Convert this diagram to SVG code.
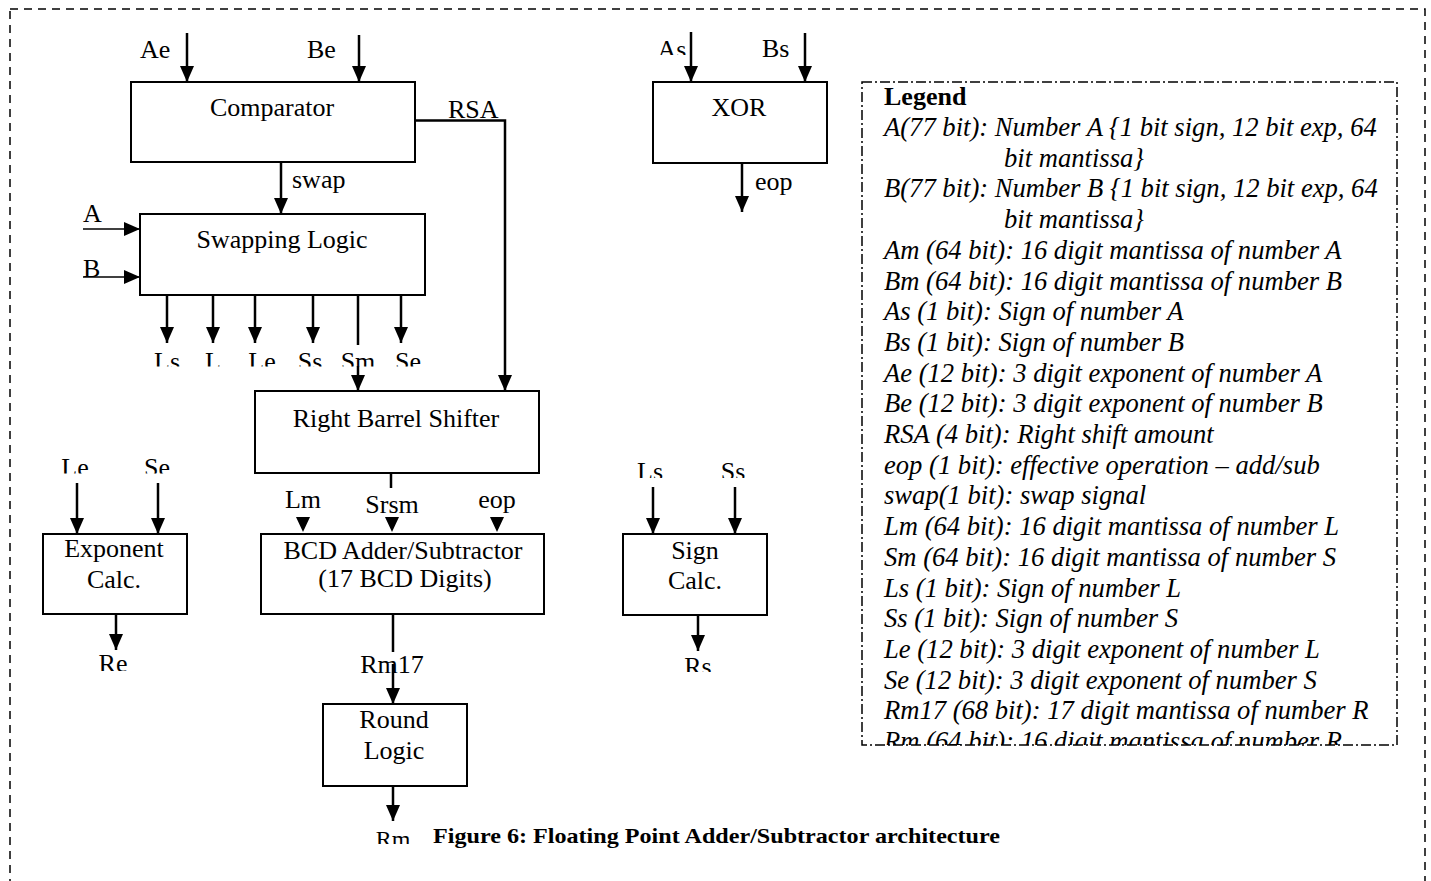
<svg xmlns="http://www.w3.org/2000/svg" width="1431" height="881" viewBox="0 0 1431 881">
<style>
text{font-family:"Liberation Serif","Times New Roman",serif;font-size:26px;fill:#000}
.c{text-anchor:middle}
.it{font-style:italic;font-size:26.6px}
.b{font-weight:bold}
.box{fill:#fff;stroke:#000;stroke-width:2}
.w{stroke:#000;stroke-width:2.5;fill:none}
.thin{stroke:#000;stroke-width:1.3;fill:none}
.ar{marker-end:url(#ah)}
.tri{fill:#000}
</style>
<defs>
<marker id="ah" markerUnits="userSpaceOnUse" markerWidth="16" markerHeight="14" refX="16" refY="7" orient="auto" viewBox="0 0 16 14">
<path d="M0,0 L16,7 L0,14 z" fill="#000"/>
</marker>
<clipPath id="cOut"><rect x="130" y="330" width="300" height="36.5"/></clipPath>
<clipPath id="cExpIn"><rect x="40" y="440" width="160" height="33.5"/></clipPath>
<clipPath id="cSgnIn"><rect x="610" y="440" width="160" height="38"/></clipPath>
<clipPath id="cRe"><rect x="80" y="640" width="80" height="31"/></clipPath>
<clipPath id="cRs"><rect x="660" y="640" width="80" height="32"/></clipPath>
<clipPath id="cRm"><rect x="360" y="820" width="70" height="24"/></clipPath>
<clipPath id="cAs"><rect x="650" y="30" width="40" height="25"/></clipPath>
<clipPath id="cLeg"><rect x="862" y="80" width="536" height="665"/></clipPath>
</defs>

<rect x="10" y="9" width="1415" height="900" fill="none" stroke="#000" stroke-width="1.5" stroke-dasharray="8,6"/>

<g id="connectors">
<line class="w ar" x1="187" y1="33" x2="187" y2="82"/>
<line class="w ar" x1="359" y1="35" x2="359" y2="82"/>
<polyline class="w ar" points="415,120.5 505,120.5 505,391"/>
<line class="w ar" x1="281" y1="162" x2="281" y2="214"/>
<line class="thin ar" x1="83" y1="229" x2="140" y2="229"/>
<line class="thin ar" x1="83" y1="277" x2="140" y2="277"/>
<line class="w ar" x1="167" y1="295" x2="167" y2="343"/>
<line class="w ar" x1="213" y1="295" x2="213" y2="343"/>
<line class="w ar" x1="255" y1="295" x2="255" y2="343"/>
<line class="w ar" x1="313" y1="295" x2="313" y2="343"/>
<line class="w" x1="358" y1="295" x2="358" y2="345"/>
<line class="w ar" x1="358" y1="366" x2="358" y2="391"/>
<line class="w ar" x1="401" y1="295" x2="401" y2="343"/>
<line class="w ar" x1="691" y1="32" x2="691" y2="82"/>
<line class="w ar" x1="805" y1="33" x2="805" y2="82"/>
<line class="w ar" x1="742" y1="163" x2="742" y2="212"/>
<line class="w" x1="391" y1="473" x2="391" y2="488"/>
<polygon class="tri" points="296,517 310,517 303,532"/>
<polygon class="tri" points="385,517 399,517 392,532"/>
<polygon class="tri" points="490,517 504,517 497,532"/>
<line class="w ar" x1="77" y1="483" x2="77" y2="534"/>
<line class="w ar" x1="158" y1="483" x2="158" y2="534"/>
<line class="w ar" x1="116" y1="614" x2="116" y2="650"/>
<line class="w ar" x1="653" y1="487" x2="653" y2="534"/>
<line class="w ar" x1="735" y1="487" x2="735" y2="534"/>
<line class="w ar" x1="698" y1="615" x2="698" y2="651"/>
<line class="w" x1="393" y1="614" x2="393" y2="652"/>
<line class="w ar" x1="393" y1="664" x2="393" y2="704"/>
<line class="w ar" x1="393" y1="786" x2="393" y2="821"/>
</g>

<g id="comparator">
<rect class="box" x="131" y="82" width="284" height="80"/>
<text class="c" x="272" y="116">Comparator</text>
</g>
<g id="swapping-logic">
<rect class="box" x="140" y="214" width="285" height="81"/>
<text class="c" x="282" y="248">Swapping Logic</text>
</g>
<g id="right-barrel-shifter">
<rect class="box" x="255" y="391" width="284" height="82"/>
<text class="c" x="396" y="427">Right Barrel Shifter</text>
</g>
<g id="xor">
<rect class="box" x="653" y="82" width="174" height="81"/>
<text class="c" x="739" y="116">XOR</text>
</g>
<g id="exponent-calc">
<rect class="box" x="43" y="534" width="144" height="80"/>
<text class="c" x="114" y="557">Exponent</text>
<text class="c" x="114" y="588">Calc.</text>
</g>
<g id="bcd-adder">
<rect class="box" x="261" y="534" width="283" height="80"/>
<text class="c" x="403" y="559">BCD Adder/Subtractor</text>
<text class="c" x="405" y="587">(17 BCD Digits)</text>
</g>
<g id="sign-calc">
<rect class="box" x="623" y="534" width="144" height="81"/>
<text class="c" x="695" y="559">Sign</text>
<text class="c" x="695" y="589">Calc.</text>
</g>
<g id="round-logic">
<rect class="box" x="323" y="704" width="144" height="82"/>
<text class="c" x="394" y="728">Round</text>
<text class="c" x="394" y="759">Logic</text>
</g>

<g id="labels">
<text x="140" y="58">Ae</text>
<text x="307" y="58">Be</text>
<text x="448" y="118">RSA</text>
<text x="292" y="188">swap</text>
<text x="83" y="222">A</text>
<text x="83" y="277">B</text>
<g clip-path="url(#cOut)">
<text class="c" x="167" y="370">Ls</text>
<text class="c" x="213" y="370">L</text>
<text class="c" x="262" y="370">Le</text>
<text class="c" x="310" y="370">Ss</text>
<text class="c" x="358" y="370">Sm</text>
<text class="c" x="408" y="370">Se</text>
</g>
<g clip-path="url(#cAs)"><text class="c" x="672" y="58">As</text></g>
<text x="762" y="57">Bs</text>
<text x="755" y="190">eop</text>
<g clip-path="url(#cExpIn)">
<text class="c" x="75" y="476">Le</text>
<text class="c" x="157" y="476">Se</text>
</g>
<g clip-path="url(#cSgnIn)">
<text class="c" x="650" y="480">Ls</text>
<text class="c" x="733" y="480">Ss</text>
</g>
<text class="c" x="303" y="508">Lm</text>
<text class="c" x="392" y="513">Srsm</text>
<text class="c" x="497" y="508">eop</text>
<g clip-path="url(#cRe)"><text class="c" x="113" y="672">Re</text></g>
<g clip-path="url(#cRs)"><text class="c" x="698" y="675">Rs</text></g>
<text class="c" x="392" y="673">Rm17</text>
<g clip-path="url(#cRm)"><text class="c" x="393" y="847" style="font-size:24px">Rm</text></g>
</g>

<g id="caption">
<text class="b" x="433" y="843" style="font-size:21px" textLength="567" lengthAdjust="spacingAndGlyphs">Figure 6: Floating Point Adder/Subtractor architecture</text>
</g>

<g id="legend">
<rect x="862" y="82" width="535" height="663" fill="none" stroke="#000" stroke-width="1.5" stroke-dasharray="10,3,2,3"/>
<g clip-path="url(#cLeg)">
<text class="b" x="884" y="105">Legend</text>
<text class="it" x="884" y="136">A(77 bit): Number A {1 bit sign, 12 bit exp, 64</text>
<text class="it" x="1004" y="166.7">bit mantissa}</text>
<text class="it" x="884" y="197.4">B(77 bit): Number B {1 bit sign, 12 bit exp, 64</text>
<text class="it" x="1004" y="228.1">bit mantissa}</text>
<text class="it" x="884" y="258.8">Am (64 bit): 16 digit mantissa of number A</text>
<text class="it" x="884" y="289.5">Bm (64 bit): 16 digit mantissa of number B</text>
<text class="it" x="884" y="320.2">As (1 bit): Sign of number A</text>
<text class="it" x="884" y="350.9">Bs (1 bit): Sign of number B</text>
<text class="it" x="884" y="381.6">Ae (12 bit): 3 digit exponent of number A</text>
<text class="it" x="884" y="412.3">Be (12 bit): 3 digit exponent of number B</text>
<text class="it" x="884" y="443">RSA (4 bit): Right shift amount</text>
<text class="it" x="884" y="473.7">eop (1 bit): effective operation – add/sub</text>
<text class="it" x="884" y="504.4">swap(1 bit): swap signal</text>
<text class="it" x="884" y="535.1">Lm (64 bit): 16 digit mantissa of number L</text>
<text class="it" x="884" y="565.8">Sm (64 bit): 16 digit mantissa of number S</text>
<text class="it" x="884" y="596.5">Ls (1 bit): Sign of number L</text>
<text class="it" x="884" y="627.2">Ss (1 bit): Sign of number S</text>
<text class="it" x="884" y="657.9">Le (12 bit): 3 digit exponent of number L</text>
<text class="it" x="884" y="688.6">Se (12 bit): 3 digit exponent of number S</text>
<text class="it" x="884" y="719.3">Rm17 (68 bit): 17 digit mantissa of number R</text>
<text class="it" x="884" y="750">Rm (64 bit): 16 digit mantissa of number R</text>
</g>
</g>
</svg>
